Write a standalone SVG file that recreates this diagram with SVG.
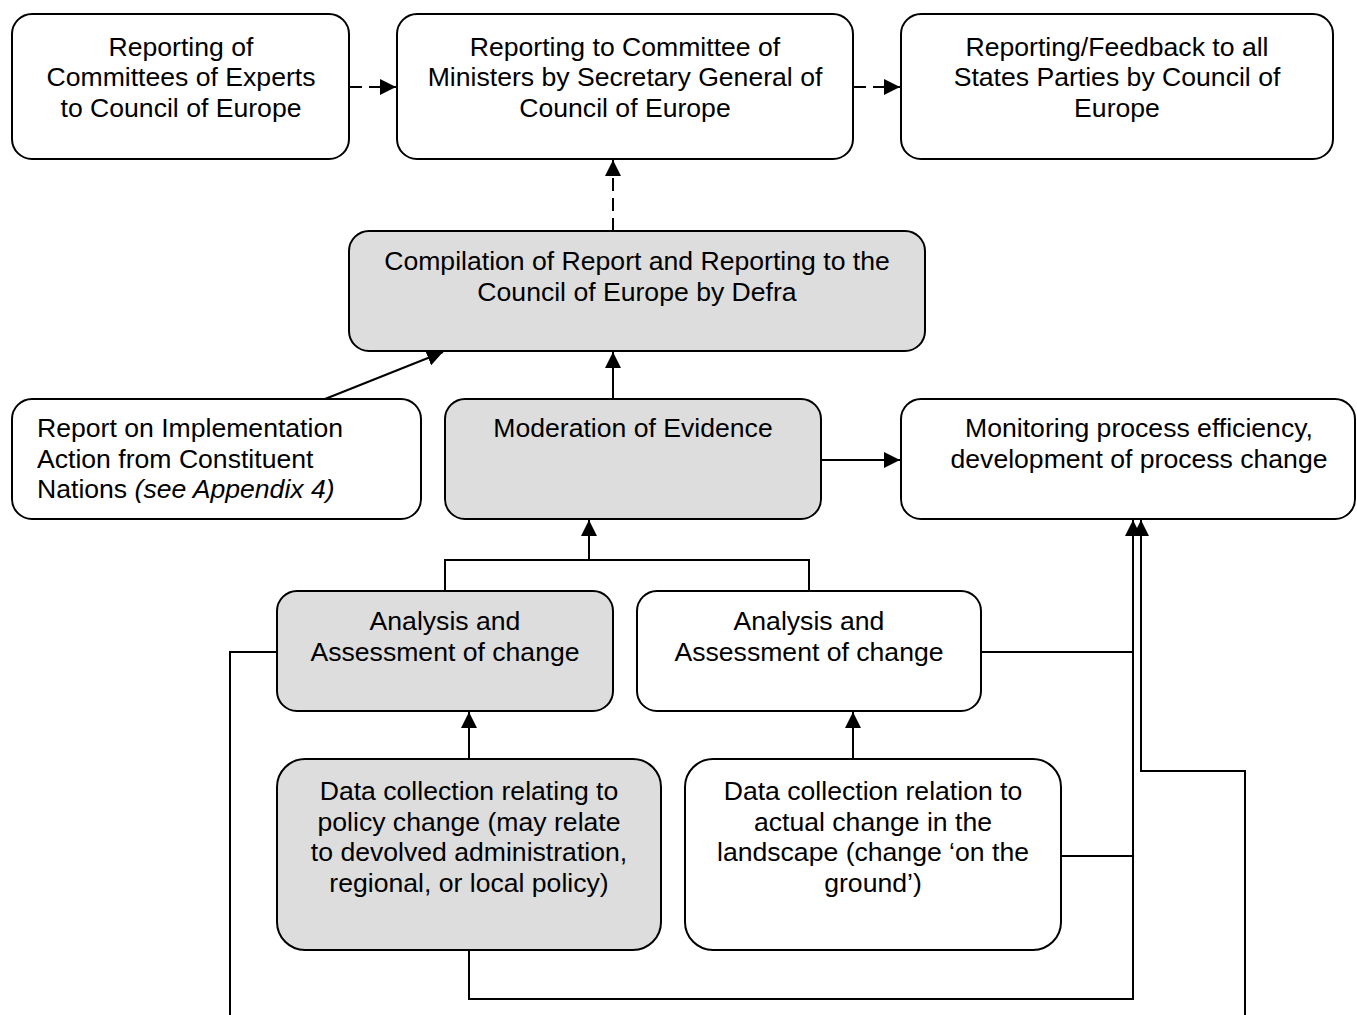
<svg xmlns="http://www.w3.org/2000/svg" width="1357" height="1015" viewBox="0 0 1357 1015">
<defs>
<marker id="ah" markerUnits="userSpaceOnUse" markerWidth="16" markerHeight="16" refX="15" refY="7.5" orient="auto" viewBox="0 0 15 15">
<path d="M0,0 L15,7.5 L0,15 z" fill="#000"/>
</marker>
<style>
.box{fill:#fff;stroke:#000;stroke-width:2}
.g{fill:#dddddd}
text{font-family:"Liberation Sans",Arial,sans-serif;font-size:26.6px;fill:#000}
.c{text-anchor:middle}
.ln{fill:none;stroke:#000;stroke-width:2}
.dash{stroke-dasharray:13,7}
</style>
</defs>
<rect width="1357" height="1015" fill="#fff"/>
<g id="connectors">
<line class="ln dash" x1="349" y1="87" x2="396" y2="87" marker-end="url(#ah)"/>
<line class="ln dash" x1="853" y1="87" x2="900" y2="87" marker-end="url(#ah)"/>
<line class="ln dash" x1="613" y1="231" x2="613" y2="160" marker-end="url(#ah)"/>
<line class="ln" x1="325" y1="399" x2="443" y2="352" marker-end="url(#ah)"/>
<line class="ln" x1="613" y1="399" x2="613" y2="352" marker-end="url(#ah)"/>
<line class="ln" x1="821" y1="460" x2="900" y2="460" marker-end="url(#ah)"/>
<polyline class="ln" points="445,591 445,560 809,560 809,591"/>
<line class="ln" x1="589" y1="560" x2="589" y2="520" marker-end="url(#ah)"/>
<line class="ln" x1="469" y1="759" x2="469" y2="712" marker-end="url(#ah)"/>
<line class="ln" x1="853" y1="759" x2="853" y2="712" marker-end="url(#ah)"/>
<polyline class="ln" points="469,950 469,999 1133,999 1133,520" marker-end="url(#ah)"/>
<line class="ln" x1="981" y1="652" x2="1133" y2="652"/>
<line class="ln" x1="1061" y1="856" x2="1133" y2="856"/>
<polyline class="ln" points="1245,1015 1245,771 1141,771 1141,520" marker-end="url(#ah)"/>
<polyline class="ln" points="277,652 230,652 230,1015"/>
</g>
<g id="n1"><rect class="box" x="12" y="14" width="337" height="145" rx="20"/>
<text class="c" x="181" y="56">Reporting of</text>
<text class="c" x="181" y="86">Committees of Experts</text>
<text class="c" x="181" y="117">to Council of Europe</text></g>
<g id="n2"><rect class="box" x="397" y="14" width="456" height="145" rx="20"/>
<text class="c" x="625" y="56">Reporting to Committee of</text>
<text class="c" x="625" y="86">Ministers by Secretary General of</text>
<text class="c" x="625" y="117">Council of Europe</text></g>
<g id="n3"><rect class="box" x="901" y="14" width="432" height="145" rx="20"/>
<text class="c" x="1117" y="56">Reporting/Feedback to all</text>
<text class="c" x="1117" y="86">States Parties by Council of</text>
<text class="c" x="1117" y="117">Europe</text></g>
<g id="n4"><rect class="box g" x="349" y="231" width="576" height="120" rx="20"/>
<text class="c" x="637" y="270">Compilation of Report and Reporting to the</text>
<text class="c" x="637" y="301">Council of Europe by Defra</text></g>
<g id="n5"><rect class="box" x="12" y="399" width="409" height="120" rx="20"/>
<text x="37" y="437">Report on Implementation</text>
<text x="37" y="468">Action from Constituent</text>
<text x="37" y="498">Nations <tspan font-style="italic">(see Appendix 4)</tspan></text></g>
<g id="n6"><rect class="box g" x="445" y="399" width="376" height="120" rx="20"/>
<text class="c" x="633" y="437">Moderation of Evidence</text></g>
<g id="n7"><rect class="box" x="901" y="399" width="454" height="120" rx="20"/>
<text class="c" x="1139" y="437">Monitoring process efficiency,</text>
<text class="c" x="1139" y="468">development of process change</text></g>
<g id="n8"><rect class="box g" x="277" y="591" width="336" height="120" rx="20"/>
<text class="c" x="445" y="630">Analysis and</text>
<text class="c" x="445" y="661">Assessment of change</text></g>
<g id="n9"><rect class="box" x="637" y="591" width="344" height="120" rx="20"/>
<text class="c" x="809" y="630">Analysis and</text>
<text class="c" x="809" y="661">Assessment of change</text></g>
<g id="n10"><rect class="box g" x="277" y="759" width="384" height="191" rx="28"/>
<text class="c" x="469" y="800">Data collection relating to</text>
<text class="c" x="469" y="831">policy change (may relate</text>
<text class="c" x="469" y="861">to devolved administration,</text>
<text class="c" x="469" y="892">regional, or local policy)</text></g>
<g id="n11"><rect class="box" x="685" y="759" width="376" height="191" rx="28"/>
<text class="c" x="873" y="800">Data collection relation to</text>
<text class="c" x="873" y="831">actual change in the</text>
<text class="c" x="873" y="861">landscape (change ‘on the</text>
<text class="c" x="873" y="892">ground’)</text></g>
</svg>
